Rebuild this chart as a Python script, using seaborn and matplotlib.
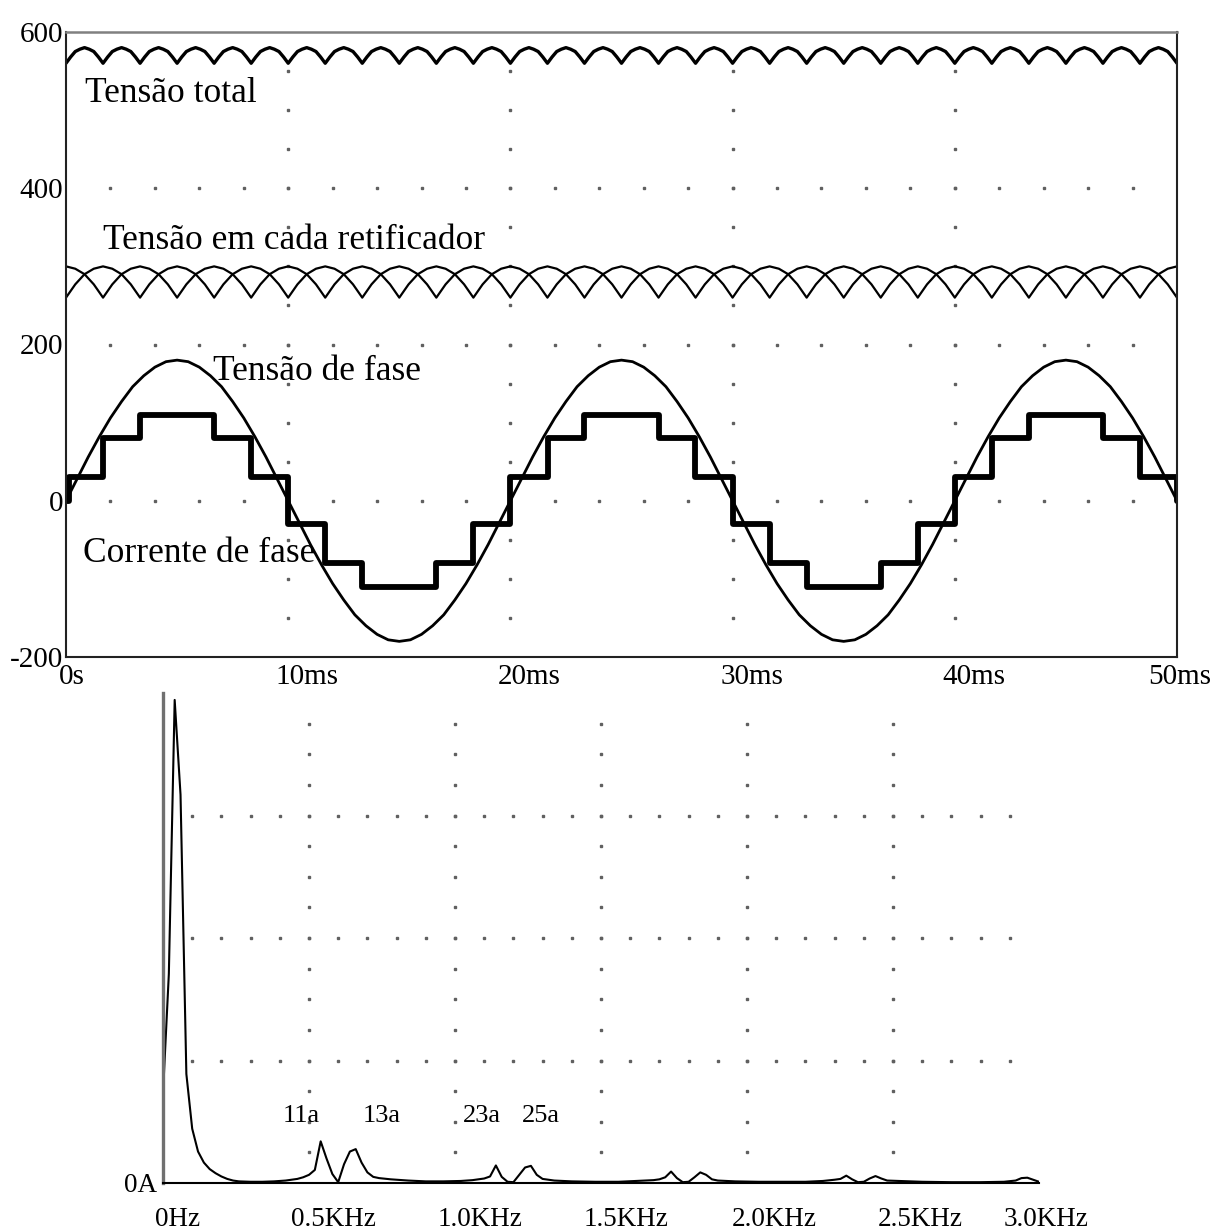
import numpy as np
import pandas as pd
import matplotlib
matplotlib.use("Agg")
import matplotlib.pyplot as plt
import matplotlib.transforms as mtransforms
import seaborn as sns

# ---------------- data ----------------
# Top panel: time in ms
phase_voltage_cycle = [0, 28, 56, 82, 106, 127, 146, 160, 171, 178,
                       180, 178, 171, 160, 146, 127, 106, 82, 56, 28,
                       0, -28, -56, -82, -106, -127, -146, -160, -171, -178,
                       -180, -178, -171, -160, -146, -127, -106, -82, -56, -28]
phase_voltage_step_ms = 0.5

rectifier_a_cycle = [260, 277, 290, 297, 300, 297, 290, 277]
rectifier_b_cycle = [300, 297, 290, 277, 260, 277, 290, 297]
rectifier_step_ms = 50 / 120

total_voltage_cycle = [560, 568, 575, 578, 580, 578, 575, 568]
total_step_ms = 50 / 240

current_t_ms = [0, 0.15, 1.67, 3.33, 6.67, 8.33, 10.0, 11.67, 13.33, 16.67,
                18.33, 20.0, 21.67, 23.33, 26.67, 28.33, 30.0, 31.67, 33.33,
                36.67, 38.33, 40.0, 41.67, 43.33, 46.67, 48.33, 50.0]
current_A = [0, 30, 80, 110, 80, 30, -30, -80, -110, -80,
             -30, 30, 80, 110, 80, 30, -30, -80, -110,
             -80, -30, 30, 80, 110, 80, 30, 0]

time_ticks = [0, 10, 20, 30, 40, 50]
time_tick_labels = ["0s", "10ms", "20ms", "30ms", "40ms", "50ms"]
volt_ticks = [-200, 0, 200, 400, 600]
volt_tick_labels = ["-200", "0", "200", "400", "600"]

top_texts = ["Tensão total", "Tensão em cada retificador", "Tensão de fase", "Corrente de fase"]
top_text_x = [0.85, 1.67, 6.6, 0.77]
top_text_y = [521, 333, 166, -68]

# Bottom panel: spectrum of the phase current
spec_freq_hz = [0, 20, 40, 60, 80, 100, 120, 140, 160, 180, 200, 220, 240, 260,
                300, 340, 380, 420, 460, 480, 500, 520, 540, 560, 580, 600,
                620, 640, 660, 680, 700, 720, 740, 780, 840, 900, 960, 1020,
                1060, 1100, 1120, 1140, 1160, 1180, 1200, 1220, 1240, 1260,
                1280, 1300, 1340, 1400, 1480, 1560, 1620, 1680, 1700, 1720,
                1740, 1760, 1780, 1800, 1820, 1840, 1860, 1880, 1900, 1960,
                2040, 2120, 2200, 2260, 2300, 2320, 2340, 2360, 2380, 2400,
                2420, 2440, 2460, 2480, 2520, 2600, 2700, 2800, 2880, 2920,
                2940, 2960, 2980, 3000]
spec_amp_A = [21.9, 51.2, 118.3, 95.1, 26.7, 13.3, 7.7, 5.0, 3.4, 2.4, 1.6, 1.0, 0.6, 0.4,
              0.3, 0.3, 0.4, 0.6, 1.0, 1.4, 2.0, 3.2, 10.2, 6.0, 2.2, 0.2,
              4.6, 7.7, 8.3, 5.0, 2.6, 1.5, 1.2, 0.9, 0.6, 0.4, 0.4, 0.5,
              0.7, 1.1, 1.6, 4.3, 1.5, 0.3, 0.2, 2.0, 3.8, 4.2,
              2.0, 1.0, 0.6, 0.4, 0.3, 0.3, 0.5, 0.7, 0.9, 1.4,
              2.8, 1.2, 0.2, 0.3, 1.4, 2.6, 2.0, 0.9, 0.6, 0.4,
              0.3, 0.3, 0.3, 0.5, 0.8, 1.0, 1.8, 0.9, 0.2, 0.3,
              1.1, 1.7, 1.1, 0.6, 0.5, 0.3, 0.2, 0.2, 0.3, 0.6,
              1.2, 1.3, 0.8, 0.3]

freq_ticks = [0, 0.5, 1.0, 1.5, 2.0, 2.5, 3.0]
freq_tick_labels = ["0Hz", "0.5KHz", "1.0KHz", "1.5KHz", "2.0KHz", "2.5KHz", "3.0KHz"]
amp_ticks = [0, 30, 60, 90, 120]
amp_tick_labels = ["0A", "", "", "", ""]

harm_labels = ["11a", "13a", "23a", "25a"]
harm_x_khz = [0.473, 0.750, 1.092, 1.295]
harm_y = [16.4, 16.4, 16.4, 16.4]

# ---------------- build series ----------------
def periodic_series(cycle, step, t_end=50.0):
    n = int(round(t_end / step)) + 1
    return pd.DataFrame({"t": np.arange(n) * step, "v": np.resize(np.array(cycle, float), n)})

df_phase = periodic_series(phase_voltage_cycle, phase_voltage_step_ms)
df_ra = periodic_series(rectifier_a_cycle, rectifier_step_ms)
df_rb = periodic_series(rectifier_b_cycle, rectifier_step_ms)
df_tot = periodic_series(total_voltage_cycle, total_step_ms)
df_cur = pd.DataFrame({"t": current_t_ms, "v": current_A})
df_spec = pd.DataFrame({"f": np.array(spec_freq_hz) / 1000.0, "a": spec_amp_A})

# ---------------- style ----------------
sns.set_style("white")
plt.rcParams["font.family"] = ["Liberation Serif", "DejaVu Serif"]

W, H = 1217, 1231
fig = plt.figure(figsize=(W / 100, H / 100), dpi=100)
ax1 = fig.add_axes([66 / W, 1 - 657 / H, (1177 - 66) / W, (657 - 32) / H])
ax2 = fig.add_axes([163 / W, 1 - 1183 / H, (1039 - 163) / W, (1183 - 693) / H])

dot_kw = dict(ls="none", marker="s", ms=1.5, color="#606060", zorder=1)

# ---------------- top panel ----------------
for yv in [0, 200, 400]:
    xs = np.arange(2, 50, 2)
    ax1.plot(xs, np.full_like(xs, yv, dtype=float), **dot_kw)
for xv in [10, 20, 30, 40]:
    ys = np.arange(-150, 600, 50)
    ax1.plot(np.full_like(ys, xv, dtype=float), ys, **dot_kw)

sns.lineplot(data=df_tot, x="t", y="v", ax=ax1, color="black", lw=2.4,
             estimator=None, sort=False)
sns.lineplot(data=df_ra, x="t", y="v", ax=ax1, color="black", lw=1.6,
             estimator=None, sort=False)
sns.lineplot(data=df_rb, x="t", y="v", ax=ax1, color="black", lw=1.6,
             estimator=None, sort=False)
sns.lineplot(data=df_phase, x="t", y="v", ax=ax1, color="black", lw=2.0,
             estimator=None, sort=False)
sns.lineplot(data=df_cur, x="t", y="v", ax=ax1, color="black", lw=4.2,
             estimator=None, sort=False, drawstyle="steps-post")

for txt, x, y in zip(top_texts, top_text_x, top_text_y):
    ax1.text(x, y, txt, fontsize=25.5, ha="left", va="center", color="black")

ax1.set_xlim(0, 50)
ax1.set_ylim(-200, 600)
ax1.set_xticks(time_ticks)
ax1.set_xticklabels(time_tick_labels)
ax1.set_yticks(volt_ticks)
ax1.set_yticklabels(volt_tick_labels)
ax1.set_xlabel("")
ax1.set_ylabel("")
ax1.tick_params(axis="both", length=0, labelsize=21, colors="black")
ax1.tick_params(axis="x", pad=5)
ax1.tick_params(axis="y", pad=2)
for side in ["left", "right", "bottom"]:
    ax1.spines[side].set_color("#222222")
    ax1.spines[side].set_linewidth(1.5)
ax1.spines["top"].set_color("#808080")
ax1.spines["top"].set_linewidth(1.8)

# ---------------- bottom panel ----------------
for yv in [30, 60, 90]:
    xs = np.arange(1, 30) * 0.1
    ax2.plot(xs, np.full_like(xs, yv, dtype=float), **dot_kw)
for xv in [0.5, 1.0, 1.5, 2.0, 2.5]:
    ys = np.arange(1, 16) * 7.5
    ax2.plot(np.full_like(ys, xv, dtype=float), ys, **dot_kw)

sns.lineplot(data=df_spec, x="f", y="a", ax=ax2, color="black", lw=1.5,
             estimator=None, sort=False)

for txt, x, y in zip(harm_labels, harm_x_khz, harm_y):
    ax2.text(x, y, txt, fontsize=19, ha="center", va="center", color="black")

ax2.set_xlim(0, 3.0)
ax2.set_ylim(0, 120)
ax2.set_xticks(freq_ticks)
ax2.set_xticklabels(freq_tick_labels)
ax2.set_yticks(amp_ticks)
ax2.set_yticklabels(amp_tick_labels)
ax2.set_xlabel("")
ax2.set_ylabel("")
ax2.tick_params(axis="x", length=0, labelsize=19.5, pad=17, colors="black")
ax2.tick_params(axis="y", length=3, width=2, direction="inout", labelsize=19.5,
                pad=3, color="#555555", labelcolor="black")
ax2.spines["top"].set_visible(False)
ax2.spines["right"].set_visible(False)
ax2.spines["left"].set_color("#707070")
ax2.spines["left"].set_linewidth(2.4)
ax2.spines["bottom"].set_color("black")
ax2.spines["bottom"].set_linewidth(1.5)

# horizontal offsets of the tick labels (as laid out in the reference)
def shift_labels(ax, offsets_px):
    for lab, dx in zip(ax.get_xticklabels(), offsets_px):
        lab.set_transform(lab.get_transform() +
                          mtransforms.ScaledTranslation(dx / 100, 0, fig.dpi_scale_trans))

shift_labels(ax1, [6, 19, 19, 19, 19, 3])
shift_labels(ax2, [15, 24, 25, 25, 27, 27, 7])

fig.savefig("out.png", dpi=100)
